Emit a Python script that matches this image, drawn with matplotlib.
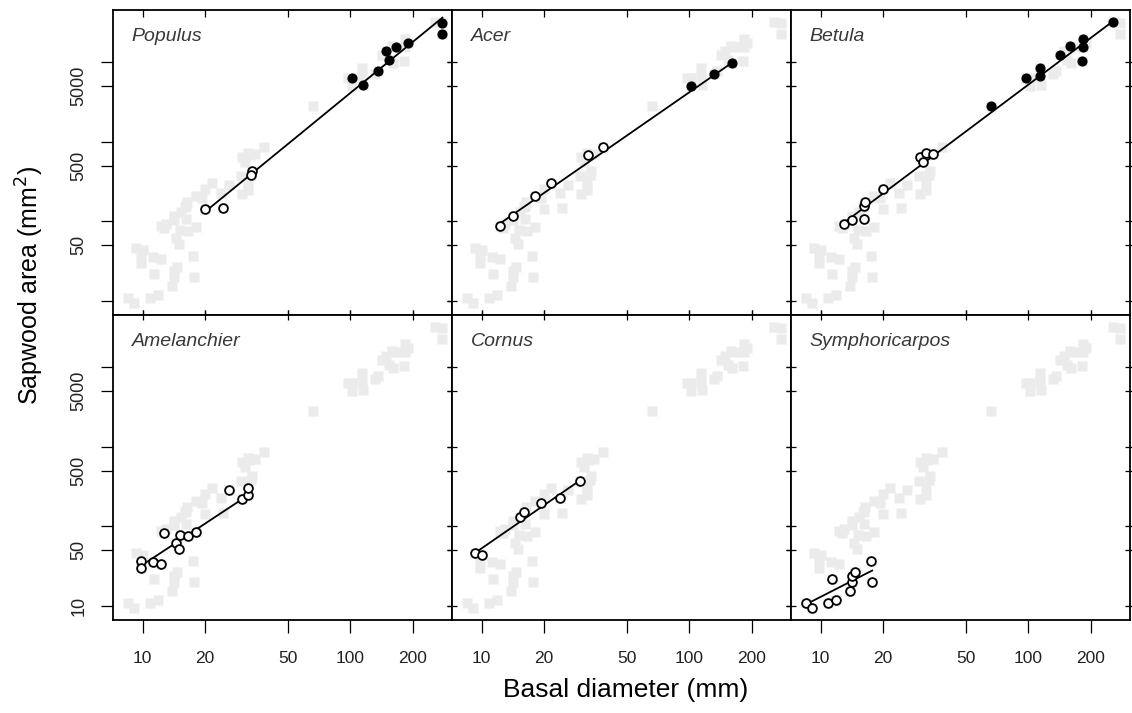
import numpy as np
import matplotlib.pyplot as plt
from matplotlib.lines import TICKDOWN, TICKLEFT
from matplotlib.ticker import NullLocator

plt.rcParams['font.family'] = ['Liberation Sans', 'DejaVu Sans']

# basal diameter (mm) and sapwood area (mm2); open = small stems, filled = large stems
populus_open_d = [19.9, 24.4, 33.7, 33.4]
populus_open_a = [141, 148, 424, 386]
populus_fill_d = [102, 115, 135, 148, 154, 166, 190, 277, 275]
populus_fill_a = [6170, 5150, 7760, 13700, 10500, 15100, 17400, 30900, 22500]

acer_open_d = [12.2, 14.2, 18.0, 21.5, 32.5, 38.2]
acer_open_a = [87, 116, 207, 298, 673, 857]
acer_fill_d = [102, 131, 161]
acer_fill_a = [4900, 7000, 9780]

betula_open_d = [12.9, 14.2, 16.2, 16.2, 16.4, 20.0, 30.0, 31.1, 32.3, 34.8]
betula_open_a = [91.5, 103, 108, 155, 174, 251, 642, 550, 721, 707]
betula_fill_d = [65.9, 97.8, 113, 113, 142, 158, 182, 183, 180, 254]
betula_fill_a = [2810, 6170, 8320, 6670, 12200, 15900, 19200, 15200, 10300, 31800]

amelanchier_open_d = [9.83, 9.83, 11.2, 12.2, 12.6, 14.4, 15.0, 15.2, 16.5, 18.0,
                      26.1, 30.0, 32.3, 32.3]
amelanchier_open_a = [36.7, 29.8, 36.1, 33.4, 81.5, 62.4, 52.5, 77.6, 75.5, 85.7,
                      284, 221, 246, 298]

cornus_open_d = [9.33, 10.0, 15.3, 15.9, 19.3, 23.7, 29.6]
cornus_open_a = [45.9, 43.6, 132, 152, 197, 228, 375]

symphoricarpos_open_d = [8.49, 9.10, 10.8, 11.9, 11.4, 13.9, 14.2, 14.2, 14.7, 17.4, 17.7]
symphoricarpos_open_a = [10.8, 9.43, 10.8, 11.9, 22.1, 15.5, 20.1, 23.9, 26.8, 36.7, 20.3]

genera = ['Populus', 'Acer', 'Betula', 'Amelanchier', 'Cornus', 'Symphoricarpos']
open_d = [populus_open_d, acer_open_d, betula_open_d,
          amelanchier_open_d, cornus_open_d, symphoricarpos_open_d]
open_a = [populus_open_a, acer_open_a, betula_open_a,
          amelanchier_open_a, cornus_open_a, symphoricarpos_open_a]
fill_d = [populus_fill_d, acer_fill_d, betula_fill_d, [], [], []]
fill_a = [populus_fill_a, acer_fill_a, betula_fill_a, [], [], []]

# log10(area) = intercept + slope * log10(diameter)
fit_intercept = [-0.650, 0.0085, -0.188, -0.200, -0.076, -0.214]
fit_slope = [2.13, 1.805, 1.951, 1.718, 1.80, 1.33]

x_ticks = [10, 20, 50, 100, 200]
y_ticks = [10, 50, 100, 500, 1000, 5000, 10000]
y_labels_top = ['', '50', '', '500', '', '5000', '']
y_labels_bottom = ['10', '50', '', '500', '', '5000', '']

# every stem of every genus, shown faintly behind each panel
all_d = np.concatenate([np.r_[o, f] for o, f in zip(open_d, fill_d)])
all_a = np.concatenate([np.r_[o, f] for o, f in zip(open_a, fill_a)])

fig = plt.figure(figsize=(11.32, 7.13), dpi=100)
axes = fig.subplots(2, 3, gridspec_kw=dict(wspace=0, hspace=0))
fig.subplots_adjust(left=113 / 1132, right=1130 / 1132, top=1 - 10 / 713, bottom=1 - 620 / 713)

for i, ax in enumerate(axes.flat):
    row, col = divmod(i, 3)
    ax.set_xscale('log')
    ax.set_yscale('log')

    ax.plot(all_d, all_a, 's', ms=7, color='#ebebeb', mec='none', zorder=1)

    d = np.r_[open_d[i], fill_d[i]]
    xs = np.array([d.min(), d.max()])
    ax.plot(xs, 10 ** (fit_intercept[i] + fit_slope[i] * np.log10(xs)),
            color='black', lw=1.3, zorder=2)
    ax.plot(open_d[i], open_a[i], 'o', ms=6.3, mfc='white', mec='black', mew=1.3, zorder=3)
    if fill_d[i]:
        ax.plot(fill_d[i], fill_a[i], 'o', ms=6.3, color='black', zorder=3)

    ax.text(0.055, 0.899, genera[i], transform=ax.transAxes, style='italic',
            fontsize=14, color='#383838', va='baseline')

    ax.set_xlim(7.2, 308)
    ax.set_ylim(6.7, 44500)
    ax.set_xticks(x_ticks)
    ax.set_yticks(y_ticks)
    ax.xaxis.set_minor_locator(NullLocator())
    ax.yaxis.set_minor_locator(NullLocator())
    ax.tick_params(which='major', direction='inout', length=7, width=0.9,
                   top=True, right=True, labelsize=12.5, colors='black')
    for s in ax.spines.values():
        s.set_linewidth(1.3)

    if row == 1:
        ax.set_xticklabels([str(v) for v in x_ticks])
        ax.tick_params(axis='x', pad=19, labelcolor='#222222')
        for t in ax.xaxis.get_major_ticks():
            t.tick1line.set_marker(TICKDOWN)
            t.tick1line.set_markersize(9)
    else:
        ax.set_xticklabels([])
        for t in ax.xaxis.get_major_ticks():
            t.tick2line.set_marker(TICKDOWN)
            t.tick2line.set_markersize(5)

    if col == 0:
        labels = y_labels_top if row == 0 else y_labels_bottom
        ax.set_yticklabels(labels, rotation=90, va='center')
        ax.tick_params(axis='y', pad=15, labelsize=13, labelcolor='#222222')
        for t in ax.yaxis.get_major_ticks():
            t.tick1line.set_marker(TICKLEFT)
            t.tick1line.set_markersize(9)
    else:
        ax.set_yticklabels([])

fig.text(30 / 1132, 1 - 285 / 713, 'Sapwood area (mm$^2$)', rotation=90,
         ha='center', va='center', fontsize=18)
fig.text(626 / 1132, 1 - 690 / 713, 'Basal diameter (mm)',
         ha='center', va='center', fontsize=19)

fig.savefig('out.png', dpi=100)
